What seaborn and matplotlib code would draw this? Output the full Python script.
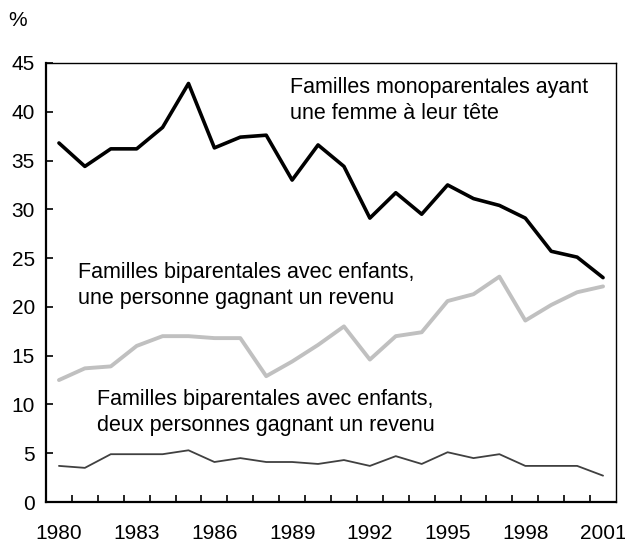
import numpy as np
import pandas as pd
import seaborn as sns
from matplotlib import pyplot as plt
from matplotlib.ticker import MultipleLocator, FixedLocator

# data (%)
years = list(range(1980, 2002))
mono_mere = [36.8, 34.4, 36.2, 36.2, 38.4, 42.9, 36.3, 37.4, 37.6, 33.0, 36.6,
             34.4, 29.1, 31.7, 29.5, 32.5, 31.1, 30.4, 29.1, 25.7, 25.1, 23.0]
bip_un_revenu = [12.5, 13.7, 13.9, 16.0, 17.0, 17.0, 16.8, 16.8, 12.9, 14.4, 16.1,
                 18.0, 14.6, 17.0, 17.4, 20.6, 21.3, 23.1, 18.6, 20.2, 21.5, 22.1]
bip_deux_revenus = [3.7, 3.5, 4.9, 4.9, 4.9, 5.3, 4.1, 4.5, 4.1, 4.1, 3.9,
                    4.3, 3.7, 4.7, 3.9, 5.1, 4.5, 4.9, 3.7, 3.7, 3.7, 2.7]
year_labels = list(range(1980, 2002, 3))

df = pd.DataFrame({
    "Year": years,
    "mono": mono_mere,
    "un": bip_un_revenu,
    "deux": bip_deux_revenus,
})

sns.set_style("white")
plt.rcParams["font.family"] = ["Liberation Sans", "DejaVu Sans"]
plt.rcParams["text.color"] = "black"

fig = plt.figure(figsize=(6.25, 5.42), dpi=100)
ax = fig.add_axes([46 / 625, 40 / 542, 570 / 625, 439 / 542])

sns.lineplot(data=df, x="Year", y="un", color="#c0c0c0", linewidth=2.8, ax=ax)
sns.lineplot(data=df, x="Year", y="deux", color="#404040", linewidth=1.3, ax=ax)
sns.lineplot(data=df, x="Year", y="mono", color="black", linewidth=2.6, ax=ax)

ax.set_xlim(1979.5, 2001.5)
ax.set_ylim(0, 45)
ax.yaxis.set_major_locator(MultipleLocator(5))
ax.xaxis.set_major_locator(FixedLocator(year_labels))
ax.xaxis.set_minor_locator(FixedLocator([y + 0.5 for y in years[:-1]]))
ax.set_xlabel("")
ax.set_ylabel("")

for side in ["left", "right", "top", "bottom"]:
    ax.spines[side].set_color("black")
ax.spines["left"].set_linewidth(1.6)
ax.spines["bottom"].set_linewidth(1.6)
ax.spines["right"].set_linewidth(1.0)
ax.spines["top"].set_linewidth(1.0)

ax.tick_params(axis="y", direction="in", length=5, width=1.2, labelsize=15,
               pad=8, left=True, colors="black")
ax.tick_params(axis="x", which="major", length=0, labelsize=15, pad=16,
               colors="black")
ax.tick_params(axis="x", which="minor", direction="in", length=5, width=1.2,
               bottom=True, colors="black")

fig.text(8 / 625, 1 - 20 / 542, "%", fontsize=15, va="center", ha="left",
         color="black")

ax.text(1988.9, 41.15, "Familles monoparentales ayant\nune femme à leur tête",
        fontsize=15.5, va="center", ha="left", linespacing=1.3, color="black")
ax.text(1980.73, 22.2, "Familles biparentales avec enfants,\nune personne gagnant un revenu",
        fontsize=15.5, va="center", ha="left", linespacing=1.3, color="black")
ax.text(1981.47, 9.15, "Familles biparentales avec enfants,\ndeux personnes gagnant un revenu",
        fontsize=15.5, va="center", ha="left", linespacing=1.3, color="black")

plt.savefig("out.png", dpi=100)
